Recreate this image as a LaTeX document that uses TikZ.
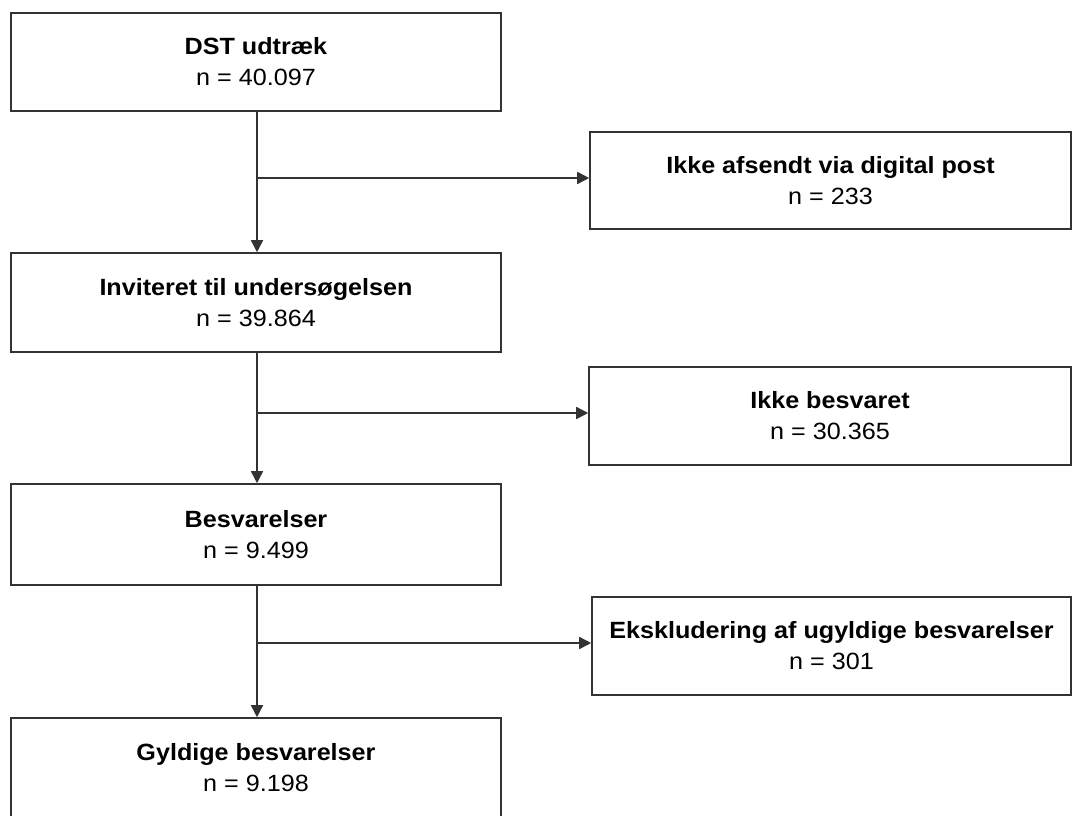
\documentclass[tikz,border=0pt]{standalone}
\usepackage{fontspec}
\setmainfont[FakeStretch=1.07]{Liberation Sans}
\usetikzlibrary{arrows.meta}
\definecolor{linegray}{HTML}{333333}
\tikzset{
  box/.style={draw=linegray, line width=1.6pt, fill=white, inner sep=0pt, align=center,
    font=\fontsize{23.5}{31}\selectfont, text=black},
  flow/.style={draw=linegray, line width=1.6pt, -{Triangle[length=12pt,width=12pt]}},
  plain/.style={draw=linegray, line width=1.6pt}
}
\begin{document}
\begin{tikzpicture}[x=1pt,y=-1pt]
\useasboundingbox (0,0) rectangle (1073,816);
\fill[white] (0,0) rectangle (1073,816);
\clip (0,0) rectangle (1073,816);
% left column
\node[box, minimum width=490pt, minimum height=98pt] (b1) at (256,62) {\textbf{DST udtræk}\\n = 40.097};
\node[box, minimum width=490pt, minimum height=99pt] (b2) at (256,302.5) {\textbf{Inviteret til undersøgelsen}\\n = 39.864};
\node[box, minimum width=490pt, minimum height=101pt] (b3) at (256,534.5) {\textbf{Besvarelser}\\n = 9.499};
\node[box, minimum width=490pt, minimum height=100pt] (b4) at (256,768) {\textbf{Gyldige besvarelser}\\n = 9.198};
% right column
\node[box, minimum width=481pt, minimum height=97pt] (r1) at (830.5,180.5) {\textbf{Ikke afsendt via digital post}\\n = 233};
\node[box, minimum width=482pt, minimum height=98pt] (r2) at (830,416) {\textbf{Ikke besvaret}\\n = 30.365};
\node[box, minimum width=479pt, minimum height=98pt] (r3) at (831.5,646) {\textbf{Ekskludering af ugyldige besvarelser}\\n = 301};
% branch points
\coordinate (k1) at (257,178);
\coordinate (k2) at (257,413);
\coordinate (k3) at (257,643);
% vertical flow
\draw[flow] (b1.south -| k1) -- (b2.north -| k1);
\draw[flow] (b2.south -| k2) -- (b3.north -| k2);
\draw[flow] (b3.south -| k3) -- (b4.north -| k3);
% side branches
\draw[flow] (k1) -- (k1 -| r1.west);
\draw[flow] (k2) -- (k2 -| r2.west);
\draw[flow] (k3) -- (k3 -| r3.west);
\end{tikzpicture}
\end{document}
